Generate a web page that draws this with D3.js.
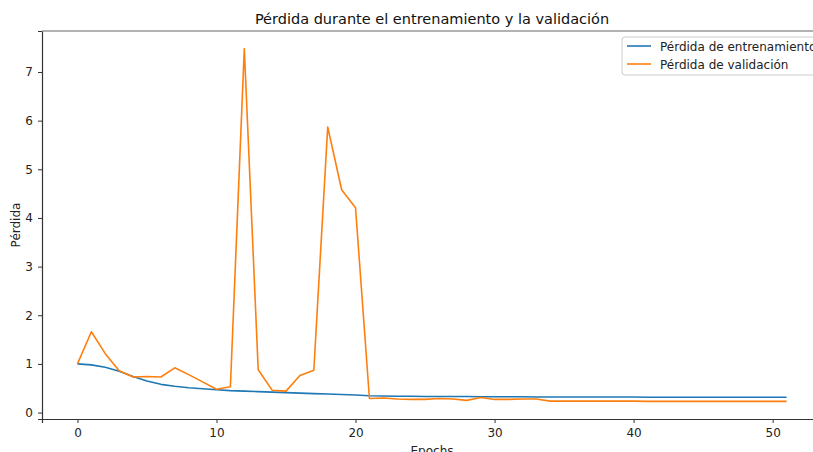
<!DOCTYPE html>
<html>
<head>
<meta charset="utf-8">
<script src="https://cdn.jsdelivr.net/npm/d3@7"></script>
<style>
  body { margin: 0; background: #fff; }
  svg { font-family: "DejaVu Sans", sans-serif; }
</style>
</head>
<body>
<div id="chart"></div>
<script>
const trainLoss = [1.00, 0.98, 0.93, 0.85, 0.74, 0.65, 0.58, 0.54, 0.51, 0.49,
  0.47, 0.45, 0.44, 0.43, 0.42, 0.41, 0.40, 0.39, 0.38, 0.37,
  0.36, 0.345, 0.34, 0.335, 0.335, 0.33, 0.33, 0.33, 0.33, 0.325,
  0.325, 0.325, 0.325, 0.32, 0.32, 0.32, 0.32, 0.32, 0.32, 0.32,
  0.32, 0.315, 0.315, 0.315, 0.315, 0.315, 0.315, 0.315, 0.315, 0.315,
  0.315, 0.315];
const valLoss = [1.00, 1.66, 1.21, 0.86, 0.73, 0.74, 0.73, 0.92, 0.78, 0.63,
  0.48, 0.53, 7.48, 0.88, 0.46, 0.44, 0.76, 0.87, 5.87, 4.58,
  4.21, 0.29, 0.30, 0.28, 0.27, 0.27, 0.29, 0.28, 0.25, 0.31,
  0.27, 0.27, 0.28, 0.28, 0.235, 0.235, 0.235, 0.235, 0.235, 0.235,
  0.235, 0.23, 0.23, 0.23, 0.23, 0.23, 0.23, 0.23, 0.23, 0.23,
  0.23, 0.23];
const xTicks = [0, 10, 20, 30, 40, 50];
const yTicks = [0, 1, 2, 3, 4, 5, 6, 7];
const seriesNames = ["Pérdida de entrenamiento", "Pérdida de validación"];
const colors = ["#1f77b4", "#ff7f0e"];

const W = 813, H = 452;
const margin = { top: 31, right: -9, bottom: 33, left: 42 };
const width = W - margin.left - margin.right;
const height = H - margin.top - margin.bottom;

const root = d3.select("#chart").append("svg")
  .attr("width", W).attr("height", H);
const svg = root.append("g")
  .attr("transform", `translate(${margin.left},${margin.top})`);

const n = trainLoss.length;
const xPad = (n - 1) * 0.05;
const x = d3.scaleLinear().domain([-xPad, n - 1 + xPad]).range([0, width]);
const allV = trainLoss.concat(valLoss);
const ymin = d3.min(allV), ymax = d3.max(allV);
const yPad = (ymax - ymin) * 0.05;
const y = d3.scaleLinear().domain([ymin - yPad, ymax + yPad]).range([height, 0]);

// axes
const xAxis = svg.append("g")
  .attr("transform", `translate(0,${height})`)
  .call(d3.axisBottom(x).tickValues(xTicks).tickSize(4).tickPadding(5));
const yAxis = svg.append("g")
  .call(d3.axisLeft(y).tickValues(yTicks).tickSize(4).tickPadding(5));
[xAxis, yAxis].forEach(a => {
  a.select(".domain").attr("stroke", "#333").attr("stroke-width", 1.2);
  a.selectAll(".tick line").attr("stroke", "#333");
  a.selectAll(".tick text").attr("fill", "#222").attr("font-size", 12)
    .attr("font-family", "DejaVu Sans");
});
// top spine
svg.append("line")
  .attr("x1", 0).attr("x2", width).attr("y1", 0).attr("y2", 0)
  .attr("stroke", "#999").attr("stroke-width", 1.5);

// lines
const line = d3.line().x((d, i) => x(i)).y(d => y(d));
[trainLoss, valLoss].forEach((s, k) => {
  svg.append("path")
    .datum(s)
    .attr("fill", "none")
    .attr("stroke", colors[k])
    .attr("stroke-width", 1.6)
    .attr("stroke-linejoin", "round")
    .attr("d", line);
});

// title and labels
root.append("text")
  .attr("x", margin.left + width / 2).attr("y", 24)
  .attr("text-anchor", "middle").attr("font-size", 14.5).attr("fill", "#111")
  .text("Pérdida durante el entrenamiento y la validación");
root.append("text")
  .attr("x", margin.left + width / 2).attr("y", 455)
  .attr("text-anchor", "middle").attr("font-size", 12).attr("fill", "#222")
  .text("Epochs");
root.append("text")
  .attr("transform", `translate(20,${margin.top + height / 2}) rotate(-90)`)
  .attr("text-anchor", "middle").attr("font-size", 12).attr("fill", "#222")
  .text("Pérdida");

// legend
const legend = root.append("g").attr("transform", "translate(622,37)");
legend.append("rect")
  .attr("width", 200).attr("height", 38).attr("rx", 3)
  .attr("fill", "#fff").attr("stroke", "#ccc");
seriesNames.forEach((name, i) => {
  const gy = 9 + i * 18;
  legend.append("line")
    .attr("x1", 5).attr("x2", 29).attr("y1", gy).attr("y2", gy)
    .attr("stroke", colors[i]).attr("stroke-width", 1.6);
  legend.append("text")
    .attr("x", 38).attr("y", gy + 4.5)
    .attr("font-size", 12).attr("fill", "#222")
    .text(name);
});
</script>
</body>
</html>
